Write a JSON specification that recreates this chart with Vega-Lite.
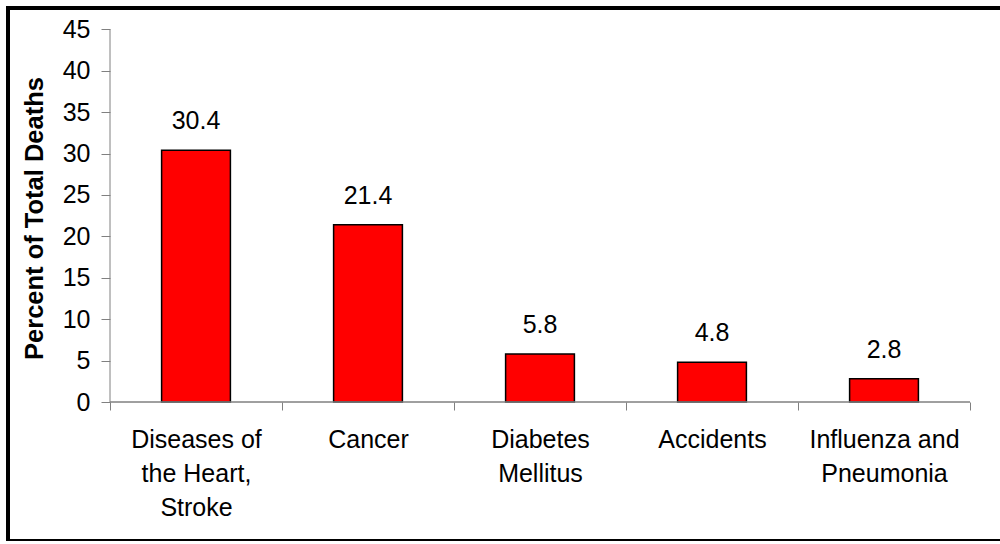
{
  "$schema": "https://vega.github.io/schema/vega-lite/v6.json",
  "autosize": {"type": "none"},
  "padding": {"left": 8, "top": 8, "right": 0, "bottom": 0},
  "width": 1000,
  "height": 533,
  "background": "white",
  "config": {
    "view": {"stroke": "black", "strokeWidth": 4, "fill": "white"},
    "font": "Liberation Sans"
  },
  "data": {
    "values": [
      {"cause": "Diseases of the Heart, Stroke", "percent": 30.4},
      {"cause": "Cancer", "percent": 21.4},
      {"cause": "Diabetes Mellitus", "percent": 5.8},
      {"cause": "Accidents", "percent": 4.8},
      {"cause": "Influenza and Pneumonia", "percent": 2.8}
    ]
  },
  "encoding": {
    "x": {
      "field": "cause",
      "type": "nominal",
      "sort": null,
      "scale": {"paddingInner": 0, "paddingOuter": 0.40698, "align": 0.7286},
      "axis": {
        "orient": "bottom",
        "offset": -139,
        "title": null,
        "domain": false,
        "tickBand": "extent",
        "tickSize": 8,
        "tickColor": "#808080",
        "tickWidth": 1,
        "labelAngle": 0,
        "labelFont": "Liberation Sans",
        "labelFontSize": 25,
        "labelColor": "black",
        "labelBaseline": "alphabetic",
        "labelPadding": 37,
        "labelLineHeight": 34,
        "labelExpr": "datum.value == 'Diseases of the Heart, Stroke' ? ['Diseases of', 'the Heart,', 'Stroke'] : datum.value == 'Diabetes Mellitus' ? ['Diabetes', 'Mellitus'] : datum.value == 'Influenza and Pneumonia' ? ['Influenza and', 'Pneumonia'] : datum.label"
      }
    }
  },
  "layer": [
    {
      "mark": {"type": "bar", "fill": "#FF0000", "stroke": "black", "strokeWidth": 1.5, "width": {"band": 0.4}},
      "encoding": {
        "y": {
          "field": "percent",
          "type": "quantitative",
          "scale": {"domain": [-16.78, 47.57], "nice": false, "zero": false},
          "axis": {
            "orient": "left",
            "offset": -102,
            "values": [0, 5, 10, 15, 20, 25, 30, 35, 40, 45],
            "domain": false,
            "grid": false,
            "tickSize": 9,
            "tickColor": "#808080",
            "tickWidth": 1,
            "labelFont": "Liberation Sans",
            "labelFontSize": 25,
            "labelColor": "black",
            "labelPadding": 11,
            "title": "Percent of Total Deaths",
            "titleFont": "Liberation Sans",
            "titleFontSize": 25.5,
            "titleFontWeight": "bold",
            "titleColor": "black",
            "titleAngle": -90,
            "titleX": -76,
            "titleY": 210,
            "titleAlign": "center",
            "titleBaseline": "middle"
          }
        },
        "y2": {"datum": 0}
      }
    },
    {
      "mark": {"type": "text", "fontSize": 25, "font": "Liberation Sans", "color": "black", "dy": -21, "baseline": "alphabetic", "align": "center"},
      "encoding": {
        "y": {"field": "percent", "type": "quantitative"},
        "text": {"field": "percent", "type": "quantitative", "format": ".1f"}
      }
    },
    {
      "mark": {"type": "rect", "fill": null, "stroke": "#808080", "strokeWidth": 1, "width": {"band": 1}},
      "encoding": {
        "y": {"datum": 0, "type": "quantitative"},
        "y2": {"datum": 0}
      }
    },
    {
      "transform": [{"filter": "datum.cause == 'Diseases of the Heart, Stroke'"}],
      "mark": {"type": "rule", "stroke": "#808080", "strokeWidth": 1},
      "encoding": {
        "x": {"field": "cause", "type": "nominal", "sort": null, "bandPosition": 0},
        "y": {"datum": 0, "type": "quantitative"},
        "y2": {"datum": 45}
      }
    }
  ]
}
